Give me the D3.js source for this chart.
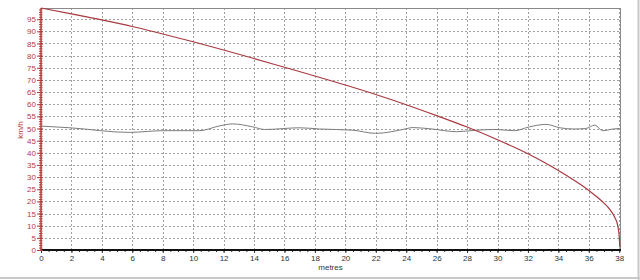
<!DOCTYPE html>
<html><head><meta charset="utf-8">
<script src="https://cdn.jsdelivr.net/npm/d3@7"></script>
<style>html,body{margin:0;padding:0;background:#fff;}svg{display:block;}</style>
</head><body>
<svg id="c" width="640" height="280"></svg>
<script>
// Red series: speed falling with distance
const redDist  = [0, 2, 4, 6, 8, 10, 12, 14, 16, 18, 20, 22, 24, 26, 28, 30, 31, 32, 33, 34, 35, 36, 36.5, 37, 37.4, 37.7, 37.9, 38.0, 38.04];
const redSpeed = [99.6, 97.2, 94.7, 92.0, 88.9, 85.7, 82.3, 78.8, 75.2, 71.6, 67.9, 64.0, 59.8, 55.3, 50.6, 45.4, 42.6, 39.6, 36.3, 32.7, 28.8, 24.5, 22.0, 19.3, 16.5, 13.5, 10.0, 5.4, 1.0];
// Grey series: roughly constant ~50
const greyDist  = [0, 1.9, 5.8, 8, 10.4, 11.75, 12.6, 13.9, 14.7, 17, 18.3, 20.5, 22, 24, 24.4, 25.7, 27.3, 28.6, 29.9, 31.1, 32.1, 33.2, 34.1, 35, 35.8, 36.4, 36.9, 37.6, 38];
const greySpeed = [51.0, 50.3, 48.4, 49.1, 49.1, 51.1, 51.9, 50.7, 49.6, 50.3, 49.8, 49.3, 48.0, 49.9, 50.4, 49.8, 48.7, 49.3, 49.6, 49.1, 50.7, 51.7, 50.3, 49.8, 50.0, 51.4, 49.1, 49.8, 50.0];
const xTicks = d3.range(0, 39, 2);
const yTicks = d3.range(0, 100, 5);
const xLabel = "metres";
const yLabel = "km/h";

const svg = d3.select("#c");
const L = 41, R = 620, T = 8, B = 250;
const x = d3.scaleLinear().domain([0, 38.05]).range([L, R]);
const y = d3.scaleLinear().domain([0, 99.6]).range([B, T]);
const redC = "#b33b3b", lineRed = "#a8393f", font = "'Liberation Sans', Arial, sans-serif";

// outer frame (right/bottom)
svg.append("line").attr("x1",0).attr("x2",640).attr("y1",278).attr("y2",278).attr("stroke","#c8c8c8").attr("stroke-width",2);
svg.append("line").attr("x1",638.5).attr("x2",638.5).attr("y1",0).attr("y2",280).attr("stroke","#c8c8c8").attr("stroke-width",2);

// grid
const g = svg.append("g");
g.selectAll("line.v").data(xTicks.filter(d=>d>0)).join("line")
  .attr("x1",d=>Math.round(x(d))+0.5).attr("x2",d=>Math.round(x(d))+0.5).attr("y1",T).attr("y2",B)
  .attr("stroke","#a0a0a0").attr("stroke-dasharray","2,2");
g.selectAll("line.h").data(yTicks.filter(d=>d>0)).join("line")
  .attr("y1",d=>Math.round(y(d))+0.5).attr("y2",d=>Math.round(y(d))+0.5).attr("x1",L).attr("x2",R)
  .attr("stroke","#a0a0a0").attr("stroke-dasharray","2,2");

// plot frame top/right
svg.append("line").attr("x1",L).attr("x2",R+0.5).attr("y1",T+0.5).attr("y2",T+0.5).attr("stroke","#8a8a8a");
svg.append("line").attr("x1",R+0.5).attr("x2",R+0.5).attr("y1",T).attr("y2",B).attr("stroke","#8a8a8a");

// x axis
const xa = svg.append("g").attr("transform",`translate(0,${B})`)
  .call(d3.axisBottom(x).tickValues(xTicks).tickSize(3).tickFormat(d3.format("d")));
xa.select(".domain").remove();
xa.selectAll("line").attr("stroke","#333");
xa.selectAll("text").attr("fill","#333").attr("font-size","8px").attr("font-family",font).attr("dy","0.9em").attr("y",4);
svg.append("g").attr("transform",`translate(0,${B})`)
  .call(d3.axisBottom(x).tickValues(d3.range(0,38.01,0.5)).tickSize(2).tickFormat(""))
  .call(a=>a.select(".domain").remove()).selectAll("line").attr("stroke","#333");
svg.append("line").attr("x1",L).attr("x2",R+1).attr("y1",B).attr("y2",B).attr("stroke","#111").attr("stroke-width",2);

// y axis
const ya = svg.append("g").attr("transform",`translate(${L},0)`)
  .call(d3.axisLeft(y).tickValues(yTicks).tickSize(4).tickFormat(d3.format("d")));
ya.select(".domain").remove();
ya.selectAll("line").attr("stroke",redC).attr("x2",-4).attr("x1",2);
ya.selectAll("text").attr("fill",redC).attr("font-size","8px").attr("font-family",font).attr("x",-5);
svg.append("g").attr("transform",`translate(${L},0)`)
  .call(d3.axisLeft(y).tickValues(d3.range(0,99.6,1)).tickSize(2).tickFormat(""))
  .call(a=>a.select(".domain").remove()).selectAll("line").attr("stroke",redC).attr("x1",1.5);
svg.append("line").attr("x1",L).attr("x2",L).attr("y1",T).attr("y2",B).attr("stroke",redC).attr("stroke-width",1.5);

// axis titles
svg.append("text").attr("x",(L+R)/2).attr("y",270).attr("text-anchor","middle")
  .attr("font-size","8px").attr("font-family",font).attr("fill","#333").text(xLabel);
svg.append("text").attr("transform",`translate(23,130) rotate(-90)`).attr("text-anchor","middle")
  .attr("font-size","8px").attr("font-family",font).attr("fill",redC).text(yLabel);

// series
const line = d3.line().x(d=>x(d[0])).y(d=>y(d[1])).curve(d3.curveMonotoneX);
svg.append("path").datum(d3.zip(greyDist, greySpeed)).attr("d",line)
  .attr("fill","none").attr("stroke","#7c7c7c").attr("stroke-width",1);
svg.append("path").datum(d3.zip(redDist, redSpeed)).attr("d",line)
  .attr("fill","none").attr("stroke",lineRed).attr("stroke-width",1.2);
</script>
</body></html>
